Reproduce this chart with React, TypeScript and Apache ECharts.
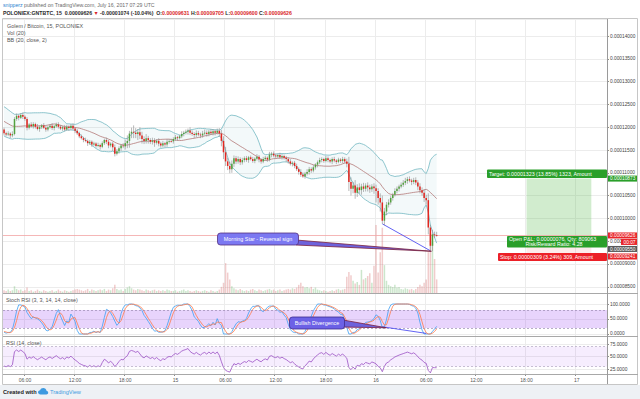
import React, { useEffect, useRef } from "react";
import * as echarts from "echarts";

// ---------------- data (prices in satoshi, 1 sat = 0.00000001 BTC) ----------------
const startTimeUTC = Date.UTC(2017, 6, 14, 3, 30); // first 15-min slot
const slotCount = 289; // visible 15-min slots across the time axis

// closes before the visible window (warm-up for BB / RSI / Stoch RSI)
const preCloses = [
  12100, 12150, 12120, 12180, 12150, 12200, 12180, 12250, 12300, 12280, 12350, 12400, 12380, 12420, 12450, 12400, 12380,
  12350, 12300, 12320, 12250, 12200, 12220, 12150, 12100, 12120, 12050, 12000, 12030, 11980, 11950, 11990, 11960, 11950,
];

const closes = [
  11870, 11840, 11860, 11820, 11850,
  12180, 12250, 12210, 12270, 12230, 12180, 11990,
  12060, 12020, 12070, 12010, 11960, 12000, 12040, 11990, 11950, 12000, 12030, 11980, 12020, 12060, 12010,
  11970, 12000, 11950, 12010, 11980, 12030, 11970, 11920, 11870,
  11800, 11760, 11720, 11700, 11650, 11680, 11620, 11640, 11590, 11610, 11570,
  11650, 11720, 11680, 11600, 11640, 11560, 11420, 11470,
  11540, 11600, 11580, 11650, 11700,
  11860, 11900, 11880, 11850, 11890, 11820,
  11740, 11700, 11760, 11720, 11680, 11710, 11660, 11700, 11640,
  11600, 11650, 11620, 11680, 11700, 11690,
  11740, 11780, 11760, 11800,
  11850, 11880, 11900, 11930, 11880, 11850, 11830, 11870, 11840, 11820, 11860, 11880, 11850, 11900, 11870, 11910, 11880, 11920, 11860,
  11700,
  11450, 11250, 11150, 11080,
  11200, 11320, 11250, 11300, 11230, 11280,
  11320, 11280, 11340, 11300, 11260, 11310, 11350, 11290, 11250, 11300, 11330, 11290,
  11400, 11420, 11380, 11360, 11390, 11340, 11370, 11330, 11300,
  11250, 11200, 11220, 11150, 11080, 11020, 10960, 10920,
  10980, 11020, 11080, 11050, 11120, 11180, 11230, 11280,
  11300, 11260, 11320, 11280, 11250, 11300, 11270, 11240, 11290, 11260, 11300, 11250, 11200,
  10800,
  10650, 10720, 10560, 10680, 10620,
  10700, 10650, 10720, 10680, 10640, 10700, 10660, 10600, 10450, 10350,
  9950, 10150, 10300, 10350,
  10450, 10520, 10600, 10650, 10700, 10740, 10780,
  10820, 10860, 10830, 10800, 10840, 10790,
  10700, 10620, 10560, 10450, 10400,
  9800, 9400, 9650, 9631, 9626,
];

const wickUp = [
  40, 30, 50, 30, 60, 40, 50, 30, 40, 50, 30, 40,
  30, 50, 40, 30, 60, 40, 30, 50, 40, 30, 40, 60, 30, 40, 50,
  40, 30, 50, 40, 30, 40, 50, 30, 40,
  30, 40, 30, 50, 30, 40, 30, 40, 30, 50, 30,
  40, 30, 50, 40, 30, 40, 60, 50,
  40, 30, 50, 80, 120, 60, 90, 140, 100, 70, 110,
  80, 60, 90, 50, 40, 60, 50, 40, 60, 40, 50, 30, 60, 40, 50,
  40, 50, 30, 40, 60, 40, 50, 40, 70, 50, 40, 60, 50, 40, 60, 70, 50, 40, 60, 50, 40, 50, 60,
  80, 100, 120, 80, 90, 70, 60, 50, 60, 40, 50,
  40, 50, 30, 40, 50, 30, 60, 40, 30, 50, 40, 30, 60, 40, 50, 40, 30, 50, 40, 30, 40,
  40, 50, 30, 40, 50, 40, 60, 50, 40, 60, 50, 40, 50, 30, 40, 50,
  40, 30, 50, 40, 30, 40, 50, 30, 40, 30, 50, 40, 60,
  150, 100, 80, 120, 70, 90, 60, 80, 50, 70, 60, 50, 70, 80, 60, 100,
  150, 80, 60, 70, 50, 40, 60, 50, 40, 50, 60,
  70, 50, 60, 40, 50, 60, 50, 70, 60, 80, 70,
  150, 60, 100, 60, 74,
];

const wickDown = [
  50, 40, 30, 60, 40, 30, 40, 60, 30, 50, 40, 60,
  40, 30, 50, 40, 30, 60, 40, 30, 50, 40, 30, 40, 50, 30, 40,
  30, 50, 40, 30, 60, 40, 30, 50, 40,
  40, 30, 50, 30, 60, 40, 50, 30, 40, 30, 60,
  30, 40, 50, 60, 40, 80, 60, 40,
  50, 60, 40, 70, 110, 150, 100, 120, 90, 130, 80,
  100, 70, 60, 80, 50, 60, 90, 40, 60, 50, 40, 60, 50, 40, 30,
  50, 40, 60, 30, 40, 50, 40, 60, 50, 40, 70, 50, 40, 60, 50, 40, 60, 50, 40, 50, 60, 40, 70,
  120, 150, 100, 90, 90, 80, 70, 60, 50, 60, 50,
  50, 40, 60, 30, 40, 50, 40, 60, 50, 40, 30, 50, 40, 60, 40, 50, 40, 30, 50, 40, 60,
  50, 40, 60, 50, 40, 60, 50, 30, 50, 40, 60, 50, 40, 50, 60, 40,
  50, 40, 30, 50, 40, 60, 40, 50, 30, 40, 50, 40, 80,
  200, 150, 100, 130, 90, 80, 100, 70, 60, 90, 80, 60, 120, 250, 150, 200,
  70, 100, 80, 60, 50, 60, 40, 50, 60, 40, 50,
  50, 60, 40, 70, 50, 60, 80, 70, 60, 90, 100,
  150, 110, 120, 60, 26,
];

const volumes = [
  4, 3, 5, 3, 4, 10, 6, 4, 5, 3, 4, 8,
  3, 4, 2, 3, 5, 3, 2, 4, 3, 2, 3, 4, 2, 3, 5,
  3, 2, 4, 3, 2, 3, 4, 5, 6,
  5, 4, 3, 4, 6, 3, 5, 4, 3, 4, 5,
  4, 6, 3, 5, 4, 7, 12, 6,
  4, 5, 3, 6, 8, 10, 7, 5, 4, 6, 5,
  4, 3, 5, 4, 3, 4, 5, 3, 4, 3, 4, 3, 5, 4, 3,
  3, 4, 2, 3, 4, 5, 3, 4, 3, 2, 3, 4, 3, 2, 3, 4, 3, 2, 4, 3, 2, 3, 5,
  9, 15, 44, 30, 20, 10, 7, 5, 4, 6, 4,
  3, 4, 3, 5, 6, 4, 3, 5, 4, 3, 4, 5, 6, 4, 5, 3, 4, 5, 3, 4, 5,
  6, 5, 7, 6, 8, 12, 15, 10, 8, 9, 7, 9, 6, 8, 5, 4,
  3, 4, 3, 2, 3, 4, 3, 5, 6, 4, 5, 6, 24,
  31, 26, 18, 14, 16, 12, 34, 20, 22, 25, 29, 15, 40, 100, 30, 60,
  96, 41, 18, 12, 10, 9, 12, 8, 9, 6, 5,
  7, 6, 5, 6, 4, 6, 9, 12, 10, 15, 20,
  60, 88, 75, 50, 20,
];

const lastPrice = 9626;
const targetPrice = 10873;
const entryPrice = 9550;
const stopPrice = 9241;
const positionSlots = [250, 281];
const morningStarLine = [
  [181, 9880],
  [204, 9290],
];
const divergenceLine = [
  [181, 24],
  [202, 2],
];

// ---------------- derived ----------------
const pad = (n: number) => String(n).padStart(2, "0");
const categories: string[] = Array.from({ length: slotCount }, (_, i) => {
  const d = new Date(startTimeUTC + i * 15 * 60 * 1000);
  return `${d.getUTCFullYear()}-${pad(d.getUTCMonth() + 1)}-${pad(d.getUTCDate())} ${pad(d.getUTCHours())}:${pad(
    d.getUTCMinutes()
  )}`;
});
const isMajor = (v: string) => {
  const hh = +v.slice(11, 13);
  const mm = +v.slice(14, 16);
  return mm === 0 && hh % 6 === 0;
};
const timeLabel = (v: string) => (v.slice(11) === "00:00" ? String(+v.slice(8, 10)) : v.slice(11));

const opens = closes.map((_, i) => (i === 0 ? preCloses[preCloses.length - 1] : closes[i - 1]));
const highs = closes.map((c, i) => Math.max(c, opens[i]) + wickUp[i]);
const lows = closes.map((c, i) => Math.min(c, opens[i]) - wickDown[i]);

const allC = [...preCloses, ...closes];
const P = preCloses.length;
const bbMid: number[] = [];
const bbUp: number[] = [];
const bbLo: number[] = [];
for (let j = 0; j < closes.length; j++) {
  const k = P + j;
  const w = allC.slice(k - 19, k + 1);
  const m = w.reduce((a, b) => a + b, 0) / w.length;
  const sd = Math.sqrt(w.reduce((a, b) => a + (b - m) * (b - m), 0) / w.length);
  bbMid.push(m);
  bbUp.push(m + 2 * sd);
  bbLo.push(m - 2 * sd);
}
const rsiAll: (number | null)[] = new Array(allC.length).fill(null);
{
  let ag = 0;
  let al = 0;
  for (let k = 1; k <= 14; k++) {
    const d = allC[k] - allC[k - 1];
    ag += Math.max(d, 0);
    al += Math.max(-d, 0);
  }
  ag /= 14;
  al /= 14;
  rsiAll[14] = al === 0 ? 100 : 100 - 100 / (1 + ag / al);
  for (let k = 15; k < allC.length; k++) {
    const d = allC[k] - allC[k - 1];
    ag = (ag * 13 + Math.max(d, 0)) / 14;
    al = (al * 13 + Math.max(-d, 0)) / 14;
    rsiAll[k] = al === 0 ? 100 : 100 - 100 / (1 + ag / al);
  }
}
const stAll: (number | null)[] = new Array(allC.length).fill(null);
for (let k = 27; k < allC.length; k++) {
  const w = rsiAll.slice(k - 13, k + 1) as number[];
  const mn = Math.min(...w);
  const mx = Math.max(...w);
  stAll[k] = mx === mn ? 50 : ((rsiAll[k] as number) - mn) / (mx - mn) * 100;
}
const kAll: (number | null)[] = new Array(allC.length).fill(null);
for (let k = 29; k < allC.length; k++) kAll[k] = ((stAll[k] as number) + (stAll[k - 1] as number) + (stAll[k - 2] as number)) / 3;
const dAll: (number | null)[] = new Array(allC.length).fill(null);
for (let k = 31; k < allC.length; k++) dAll[k] = ((kAll[k] as number) + (kAll[k - 1] as number) + (kAll[k - 2] as number)) / 3;
const stochK = kAll.slice(P);
const stochD = dAll.slice(P);
const rsi = rsiAll.slice(P);

// ---------------- styles ----------------
const FONT = "Liberation Sans, Arial, sans-serif";
const UP = "#53a13f";
const DOWN = "#e3261f";
const WICK = "#8a8a8a";
const GRIDLINE = "#ececec";
const AXIS = "#8c8c8c";

let shapeRegistered = false;
function registerLogo() {
  if (shapeRegistered) return;
  shapeRegistered = true;
  echarts.graphic.registerShape(
    "tvCloud",
    echarts.graphic.extendPath(
      "M3 8 C1.3 8 0 6.8 0 5.3 C0 3.9 1.1 2.8 2.5 2.7 C3 1.1 4.5 0 6.2 0 C8.2 0 9.8 1.5 10 3.4 C11.2 3.6 12 4.6 12 5.8 C12 7 11 8 9.8 8 Z",
      {}
    ) as any
  );
}

function buildOption(): any {
  const xAxis = [0, 1, 2].map((gi) => ({
    type: "category",
    gridIndex: gi,
    data: categories,
    boundaryGap: true,
    axisLine: { show: gi === 2, lineStyle: { color: AXIS } },
    axisTick: { show: gi === 2, interval: (_i: number, v: string) => isMajor(v), length: 2, lineStyle: { color: AXIS } },
    axisLabel: {
      show: gi === 2,
      interval: (_i: number, v: string) => isMajor(v),
      formatter: timeLabel,
      fontSize: 5,
      color: "#555",
      margin: 3,
      fontFamily: FONT,
    },
    splitLine: { show: true, interval: (_i: number, v: string) => isMajor(v), lineStyle: { color: GRIDLINE, width: 1 } },
  }));

  const yLabel = (fmt: (v: number) => string) => ({
    formatter: fmt,
    fontSize: 4.8,
    color: "#444",
    margin: 3,
    showMinLabel: false,
    showMaxLabel: false,
    fontFamily: FONT,
  });
  const yCommon = {
    position: "right",
    axisLine: { show: true, lineStyle: { color: AXIS } },
    axisTick: { show: true, length: 2, lineStyle: { color: AXIS } },
    splitLine: { show: true, lineStyle: { color: GRIDLINE } },
  };

  const yAxis = [
    { type: "value", gridIndex: 0, min: 8364, max: 14373, minInterval: 500, maxInterval: 500, ...yCommon, axisLabel: yLabel((v) => (v / 1e8).toFixed(8)) },
    { type: "value", gridIndex: 0, show: false, min: 0, max: 403, splitLine: { show: false } },
    { type: "value", gridIndex: 1, min: -6.7, max: 136.7, minInterval: 50, maxInterval: 50, ...yCommon, axisLabel: yLabel((v) => v.toFixed(4)) },
    { type: "value", gridIndex: 2, min: 15, max: 91, minInterval: 25, maxInterval: 25, ...yCommon, axisLabel: yLabel((v) => v.toFixed(4)) },
  ];

  const candleData = closes.map((c, i) => [i, opens[i], c, lows[i], highs[i]]);
  const cat = (i: number) => categories[i];

  return {
    animation: false,
    backgroundColor: "#ffffff",
    grid: [
      { left: 3, right: 33, top: 19, height: 274 },
      { left: 3, right: 33, top: 293, height: 43 },
      { left: 3, right: 33, top: 336, height: 38 },
    ],
    xAxis,
    yAxis,
    series: [
      {
        name: "Vol",
        type: "bar",
        xAxisIndex: 0,
        yAxisIndex: 1,
        barWidth: 1.5,
        silent: true,
        z: 1,
        data: volumes.map((v, i) => ({
          value: v,
          itemStyle: { color: closes[i] >= opens[i] ? "rgba(100,180,100,0.33)" : "rgba(214,100,100,0.33)" },
        })),
      },
      {
        name: "bbBase",
        type: "line",
        xAxisIndex: 0,
        yAxisIndex: 0,
        stack: "bb",
        symbol: "none",
        silent: true,
        z: 2,
        lineStyle: { opacity: 0 },
        data: bbLo,
      },
      {
        name: "bbBand",
        type: "line",
        xAxisIndex: 0,
        yAxisIndex: 0,
        stack: "bb",
        symbol: "none",
        silent: true,
        z: 2,
        lineStyle: { opacity: 0 },
        areaStyle: { color: "rgba(100,180,195,0.11)" },
        data: bbUp.map((u, i) => u - bbLo[i]),
      },
      {
        name: "bbUpper",
        type: "line",
        xAxisIndex: 0,
        yAxisIndex: 0,
        symbol: "none",
        silent: true,
        z: 3,
        lineStyle: { color: "#72b7c2", width: 0.8 },
        data: bbUp,
      },
      {
        name: "bbLower",
        type: "line",
        xAxisIndex: 0,
        yAxisIndex: 0,
        symbol: "none",
        silent: true,
        z: 3,
        lineStyle: { color: "#72b7c2", width: 0.8 },
        data: bbLo,
      },
      {
        name: "bbMid",
        type: "line",
        xAxisIndex: 0,
        yAxisIndex: 0,
        symbol: "none",
        silent: true,
        z: 3,
        lineStyle: { color: "#b47a78", width: 0.8 },
        data: bbMid,
        markLine: {
          silent: true,
          symbol: "none",
          label: { show: false },
          data: [
            { yAxis: lastPrice, lineStyle: { color: "#f2a5a5", width: 0.8, type: "solid" } },
            [
              { coord: [cat(morningStarLine[0][0]), morningStarLine[0][1]], lineStyle: { color: "#3b3bf0", width: 0.8, type: "solid" } },
              { coord: [cat(morningStarLine[1][0]), morningStarLine[1][1]] },
            ],
          ],
        },
        markArea: {
          silent: true,
          data: [
            [
              { coord: [cat(positionSlots[0]), targetPrice], itemStyle: { color: "rgba(90,185,80,0.28)" } },
              { coord: [cat(positionSlots[1]), entryPrice] },
            ],
            [
              { coord: [cat(positionSlots[0]), entryPrice], itemStyle: { color: "rgba(240,90,90,0.12)" } },
              { coord: [cat(positionSlots[1]), stopPrice] },
            ],
          ],
        },
      },
      {
        name: "candles",
        type: "custom",
        xAxisIndex: 0,
        yAxisIndex: 0,
        z: 5,
        silent: true,
        encode: { x: 0, y: [1, 2, 3, 4] },
        data: candleData,
        renderItem: (_params: any, api: any) => {
          const i = api.value(0);
          const o = api.value(1);
          const c = api.value(2);
          const l = api.value(3);
          const h = api.value(4);
          const p0 = api.coord([i, o]);
          const x = p0[0];
          const yo = p0[1];
          const yc = api.coord([i, c])[1];
          const yl = api.coord([i, l])[1];
          const yh = api.coord([i, h])[1];
          const w = api.size([1, 0])[0] * 0.72;
          const top = Math.min(yo, yc);
          const bh = Math.max(Math.abs(yo - yc), 0.8);
          return {
            type: "group",
            children: [
              { type: "line", shape: { x1: x, y1: yh, x2: x, y2: yl }, style: { stroke: WICK, lineWidth: 0.6 } },
              { type: "rect", shape: { x: x - w / 2, y: top, width: w, height: bh }, style: { fill: c >= o ? UP : DOWN } },
            ],
          };
        },
      },
      {
        name: "stochK",
        type: "line",
        xAxisIndex: 1,
        yAxisIndex: 2,
        symbol: "none",
        silent: true,
        z: 4,
        lineStyle: { color: "#3f9ff2", width: 0.8 },
        data: stochK,
        markArea: {
          silent: true,
          itemStyle: { color: "rgba(150,60,240,0.22)" },
          data: [[{ yAxis: 20 }, { yAxis: 80 }]],
        },
        markLine: {
          silent: true,
          symbol: "none",
          label: { show: false },
          data: [
            { yAxis: 80, lineStyle: { color: "#9a8ab0", width: 0.7, type: [2, 2] } },
            { yAxis: 20, lineStyle: { color: "#9a8ab0", width: 0.7, type: [2, 2] } },
            [
              { coord: [cat(divergenceLine[0][0]), divergenceLine[0][1]], lineStyle: { color: "#3b3bf0", width: 0.8, type: "solid" } },
              { coord: [cat(divergenceLine[1][0]), divergenceLine[1][1]] },
            ],
          ],
        },
      },
      {
        name: "stochD",
        type: "line",
        xAxisIndex: 1,
        yAxisIndex: 2,
        symbol: "none",
        silent: true,
        z: 4,
        lineStyle: { color: "#ff7a4a", width: 0.8 },
        data: stochD,
      },
      {
        name: "rsi",
        type: "line",
        xAxisIndex: 2,
        yAxisIndex: 3,
        symbol: "none",
        silent: true,
        z: 4,
        lineStyle: { color: "#9b4fc4", width: 0.8 },
        data: rsi,
        markArea: {
          silent: true,
          itemStyle: { color: "rgba(150,60,240,0.09)" },
          data: [[{ yAxis: 30 }, { yAxis: 70 }]],
        },
        markLine: {
          silent: true,
          symbol: "none",
          label: { show: false },
          data: [
            { yAxis: 70, lineStyle: { color: "#b0a6c0", width: 0.7, type: [2, 2] } },
            { yAxis: 30, lineStyle: { color: "#b0a6c0", width: 0.7, type: [2, 2] } },
          ],
        },
      },
    ],
  };
}

function txt(x: number, y: number, text: string, style: any = {}, z = 50): any {
  return {
    type: "text",
    x,
    y,
    z,
    silent: true,
    style: { text, fontFamily: FONT, fontSize: 5.3, fill: "#555", align: "left", verticalAlign: "middle", ...style },
  };
}

function buildGraphics(chart: any): any[] {
  const cat = (i: number) => categories[i];
  const py = (v: number) => chart.convertToPixel({ yAxisIndex: 0 }, v) as number;
  const pMain = (i: number, v: number) => chart.convertToPixel({ xAxisIndex: 0, yAxisIndex: 0 }, [cat(i), v]) as number[];
  const pStoch = (i: number, v: number) => chart.convertToPixel({ xAxisIndex: 1, yAxisIndex: 2 }, [cat(i), v]) as number[];

  const yT = py(targetPrice);
  const yE = py(entryPrice);
  const yS = py(stopPrice);
  const yC = py(lastPrice);
  const msTip = pMain(morningStarLine[1][0], morningStarLine[1][1]);
  const dvTip = pStoch(divergenceLine[0][0], divergenceLine[0][1]);

  const tag = (x: number, y: number, w: number, text: string, fill: string, align = "left"): any[] => [
    { type: "rect", z: 60, silent: true, shape: { x, y, width: w, height: 6 }, style: { fill } },
    txt(align === "center" ? x + w / 2 : x + 2, y + 3.1, text, { fill: "#fff", fontSize: 4.8, align }, 61),
  ];

  const bold = { fontFamily: FONT, fontSize: 5.2, fontWeight: "bold" };

  return [
    // outer frame and background strips
    { type: "rect", z: 0, silent: true, shape: { x: 0, y: 385, width: 640, height: 14 }, style: { fill: "#eef1f5" } },
    { type: "rect", z: 70, silent: true, shape: { x: 2.5, y: 18.5, width: 635, height: 366 }, style: { fill: "none", stroke: "#c6c6c6", lineWidth: 1 } },
    { type: "line", z: 70, silent: true, shape: { x1: 3, y1: 293.5, x2: 638, y2: 293.5 }, style: { stroke: "#a8a8a8", lineWidth: 1 } },
    { type: "line", z: 70, silent: true, shape: { x1: 3, y1: 336.5, x2: 638, y2: 336.5 }, style: { stroke: "#a8a8a8", lineWidth: 1 } },
    { type: "line", z: 70, silent: true, shape: { x1: 3, y1: 374.5, x2: 638, y2: 374.5 }, style: { stroke: "#a8a8a8", lineWidth: 1 } },
    { type: "line", z: 70, silent: true, shape: { x1: 607.5, y1: 19, x2: 607.5, y2: 384 }, style: { stroke: "#9a9a9a", lineWidth: 1 } },

    // header
    txt(3, 5, "{b|snipperz}{g| published on TradingView.com, July 16, 2017 07:29 UTC}", {
      fontSize: 5.2,
      rich: {
        b: { fill: "#2d7fd0", fontSize: 5.2, fontFamily: FONT },
        g: { fill: "#6a6a6a", fontSize: 5.2, fontFamily: FONT },
      },
    }),
    txt(
      3,
      13,
      "{d|POLONIEX:GNTBTC, 15  0.00009626 }{r|▼}{d| -0.00001074 (-10.04%)  O:}{r|0.00009631}{d| H:}{r|0.00009705}{d| L:}{r|0.00009600}{d| C:}{r|0.00009626}",
      {
        ...bold,
        rich: { d: { fill: "#2a2a2a", ...bold }, r: { fill: "#d9262a", ...bold } },
      }
    ),

    // pane legends
    txt(7, 25.5, "Golem / Bitcoin, 15, POLONIEX", { fill: "#555", fontSize: 5.4 }),
    txt(7, 32.7, "Vol (20)", { fill: "#555", fontSize: 5.4 }),
    txt(7, 40, "BB (20, close, 2)", { fill: "#555", fontSize: 5.4 }),
    txt(6, 300, "Stoch RSI (3, 3, 14, 14, close)", { fill: "#555", fontSize: 5.4 }),
    txt(6, 343, "RSI (14, close)", { fill: "#555", fontSize: 5.4 }),

    // Morning star callout
    {
      type: "polygon",
      z: 40,
      silent: true,
      shape: { points: [[296, 240], [296, 245], [msTip[0] + 1, msTip[1] + 0.5]] },
      style: { fill: "#6d62dc", stroke: "#7a1f3c", lineWidth: 0.8 },
    },
    {
      type: "rect",
      z: 41,
      silent: true,
      shape: { x: 217.5, y: 233, width: 81, height: 12, r: 3 },
      style: { fill: "#7b78f2", stroke: "#56307e", lineWidth: 0.8 },
    },
    txt(258, 239.2, "Morning Star - Reversal sign", { fill: "#ffffff", fontSize: 5.4, align: "center" }, 42),

    // Bullish divergence callout
    {
      type: "polygon",
      z: 40,
      silent: true,
      shape: { points: [[343, 320], [343, 327], [dvTip[0] + 4, dvTip[1] + 1]] },
      style: { fill: "#6d62dc", stroke: "#7a1f3c", lineWidth: 0.8 },
    },
    {
      type: "rect",
      z: 41,
      silent: true,
      shape: { x: 289.5, y: 317, width: 55, height: 12, r: 3 },
      style: { fill: "#6c61e6", stroke: "#3e2b8e", lineWidth: 0.8 },
    },
    txt(317, 323.2, "Bullish Divergence", { fill: "#ffffff", fontSize: 5.4, align: "center" }, 42),

    // position tool labels
    { type: "rect", z: 45, silent: true, shape: { x: 487, y: yT - 9, width: 120, height: 8.5, r: 1 }, style: { fill: "#2a9f2a" } },
    txt(489, yT - 4.6, "Target: 0.00001323 (13.85%) 1323, Amount", { fill: "#fff", fontSize: 5.3 }, 46),
    { type: "rect", z: 45, silent: true, shape: { x: 507, y: yE - 3, width: 100, height: 11.5, r: 1 }, style: { fill: "#2a9f2a" } },
    txt(509, yE - 0.1, "Open P&L: 0.00000076, Qty: 809063", { fill: "#fff", fontSize: 5.3 }, 46),
    txt(554, yE + 5.4, "Risk/Reward Ratio: 4.28", { fill: "#fff", fontSize: 5.3, align: "center" }, 46),
    { type: "rect", z: 45, silent: true, shape: { x: 498, y: yS, width: 109, height: 8, r: 1 }, style: { fill: "#ec2027" } },
    txt(500, yS + 4.1, "Stop: 0.00000309 (3.24%) 309, Amount", { fill: "#fff", fontSize: 5.3 }, 46),

    // price-axis tags
    ...tag(608, yT - 3, 30, "0.00010873", "#2a9f2a"),
    ...tag(608, yC - 3, 30, "0.00009626", "#e8262b"),
    ...tag(621, yC + 3.5, 17, "00:07", "#e8262b", "center"),
    ...tag(608, yC + 10.5, 30, "0.00009550", "#5a5a5a"),
    ...tag(608, yS + 0.5, 30, "0.00009241", "#e8262b"),

    // footer
    txt(3, 391.5, "Created with", { fill: "#222", fontSize: 5.6, fontWeight: "bold" }),
    { type: "tvCloud", z: 50, silent: true, x: 38, y: 388, scaleX: 0.85, scaleY: 0.8, style: { fill: "#3d9ae0" } },
    txt(50, 391.5, "TradingView", { fill: "#3d9ae0", fontSize: 5.6 }),
  ];
}

export default function App() {
  const ref = useRef<HTMLDivElement>(null);
  useEffect(() => {
    if (!ref.current) return;
    registerLogo();
    const chart = echarts.init(ref.current, null, { renderer: "svg", width: 640, height: 399 });
    chart.setOption(buildOption());
    chart.setOption({ graphic: buildGraphics(chart) });
    return () => chart.dispose();
  }, []);
  return <div ref={ref} style={{ position: "absolute", left: 0, top: 0, width: 640, height: 399 }} />;
}
